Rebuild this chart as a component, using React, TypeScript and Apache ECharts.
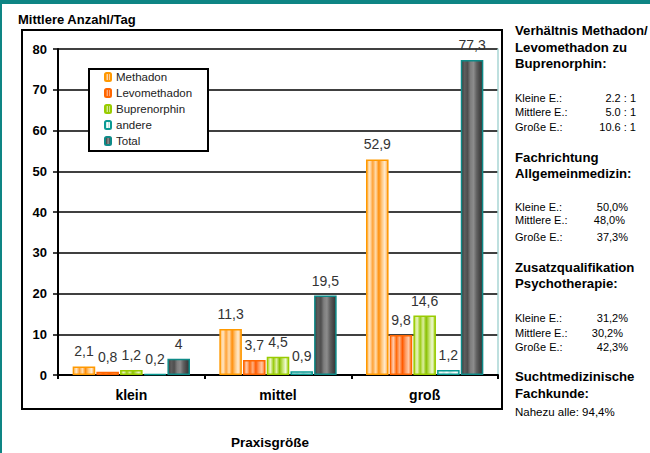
import React, { useEffect, useRef } from 'react';
import * as echarts from 'echarts';

// ---- data ----
const categories = ['klein', 'mittel', 'groß'];
const seriesNames = ['Methadon', 'Levomethadon', 'Buprenorphin', 'andere', 'Total'];
const methadon = [2.1, 11.3, 52.9];
const levomethadon = [0.8, 3.7, 9.8];
const buprenorphin = [1.2, 4.5, 14.6];
const andere = [0.2, 0.9, 1.2];
const total = [4, 19.5, 77.3];
const yMin = 0;
const yMax = 80;
const yStep = 10;

const yAxisTitle = 'Mittlere Anzahl/Tag';
const xAxisTitle = 'Praxisgröße';

const groupLabels = ['Kleine E.:', 'Mittlere E.:', 'Große E.:'];
const ratioHeading = ['Verhältnis Methadon/', 'Levomethadon zu', 'Buprenorphin:'];
const ratioValues = ['2.2 : 1', '5.0 : 1', '10.6 : 1'];
const allgHeading = ['Fachrichtung', 'Allgemeinmedizin:'];
const allgValues = ['50,0%', '48,0%', '37,3%'];
const psychHeading = ['Zusatzqualifikation', 'Psychotherapie:'];
const psychValues = ['31,2%', '30,2%', '42,3%'];
const suchtHeading = ['Suchtmedizinische', 'Fachkunde:'];
const suchtLine = 'Nahezu alle: 94,4%';

const FONT = '"Liberation Sans", Arial, Helvetica, sans-serif';

const grad = (stops: string[]) =>
  new echarts.graphic.LinearGradient(
    0, 0, 1, 0,
    stops.map((c, i) => ({ offset: i / (stops.length - 1), color: c }))
  );

const styles = [
  { fill: ['#FFB95C', '#FFE6C4', '#FFA236', '#FFDDB0', '#FF8E0A', '#FFC67C', '#FFEBD0', '#FFA840'], border: '#FF9900' },
  { fill: ['#FF8A44', '#FFC9A8', '#FF6A0A', '#FFB080', '#FF5A00', '#FF9A60', '#FFC8A4', '#FF7020'], border: '#FF6600' },
  { fill: ['#B4DA3A', '#EAF5C4', '#9ACC10', '#DDEFA0', '#88C000', '#C2E268', '#EEF8D0', '#A8D428'], border: '#99CC00' },
  { fill: ['#BFE6E0', '#F2FBF9', '#CBEDE7', '#FFFFFF', '#BDE4DE', '#E6F6F3', '#FFFFFF', '#C8EAE4'], border: '#0A9A94' },
  { fill: ['#3C3C3C', '#5E5E5E', '#4E4E4E', '#7E7E7E', '#8C8C8C', '#626262', '#484848', '#333333'], border: '#0E8A88' },
];

const seriesData = [methadon, levomethadon, buprenorphin, andere, total];

export default function App() {
  const ref = useRef<HTMLDivElement>(null);

  useEffect(() => {
    if (!ref.current) return;
    const chart = echarts.init(ref.current, undefined, { renderer: 'svg' });

    const series = seriesNames.map((name, i) => ({
      type: 'bar',
      name,
      data: seriesData[i],
      barGap: '5%',
      barCategoryGap: '20%',
      z: 2,
      itemStyle: {
        color: grad(styles[i].fill),
        borderColor: styles[i].border,
        borderWidth: 1.5,
      },
      label: {
        show: true,
        position: 'top',
        distance: 8,
        fontSize: 14,
        fontFamily: FONT,
        color: '#333333',
        formatter: (p: any) => String(p.value).replace('.', ','),
      },
    }));

    const texts: any[] = [];
    const heading = (lines: string[], ys: number[]) =>
      lines.forEach((t, i) =>
        texts.push({
          type: 'text', x: 515, y: ys[i], z: 5,
          style: { text: t, fontSize: 13.2, fontWeight: 'bold', fontFamily: FONT, fill: '#000', textVerticalAlign: 'middle' },
        })
      );
    const body = (vals: string[], ys: number[], valX: number[]) =>
      vals.forEach((v, i) => {
        texts.push({
          type: 'text', x: 515, y: ys[i], z: 5,
          style: { text: groupLabels[i], fontSize: 11, fontFamily: FONT, fill: '#000', textVerticalAlign: 'middle' },
        });
        texts.push({
          type: 'text', x: valX[i], y: ys[i], z: 5,
          style: { text: v, fontSize: 11, fontFamily: FONT, fill: '#000', textAlign: 'right', textVerticalAlign: 'middle' },
        });
      });

    heading(ratioHeading, [30, 47, 63]);
    body(ratioValues, [98, 112, 127], [636, 636, 636]);
    heading(allgHeading, [157, 173]);
    body(allgValues, [207, 220, 237], [628, 625, 628]);
    heading(psychHeading, [267, 283]);
    body(psychValues, [318, 333, 347], [628, 623, 628]);
    heading(suchtHeading, [376, 393]);
    texts.push({
      type: 'text', x: 515, y: 412, z: 5,
      style: { text: suchtLine, fontSize: 11.5, fontFamily: FONT, fill: '#000', textVerticalAlign: 'middle' },
    });

    const option: any = {
      animation: false,
      backgroundColor: '#ffffff',
      textStyle: { fontFamily: FONT },
      grid: { left: 58, right: 152, top: 49, bottom: 78, containLabel: false },
      legend: {
        orient: 'vertical',
        left: 104,
        top: 70,
        padding: 0,
        itemGap: 2,
        itemWidth: 6,
        itemHeight: 8,
        z: 6,
        data: seriesNames,
        textStyle: { fontSize: 11.5, fontFamily: FONT, color: '#222', lineHeight: 14 },
      },
      xAxis: {
        type: 'category',
        data: categories,
        axisLine: { lineStyle: { color: '#000', width: 2 } },
        axisTick: { show: true, length: 4, lineStyle: { color: '#000', width: 2 } },
        axisLabel: { fontSize: 14, fontWeight: 'bold', color: '#000', margin: 13, fontFamily: FONT },
      },
      yAxis: [
        {
          type: 'value',
          min: yMin,
          max: yMax,
          interval: yStep,
          axisLine: { show: true, lineStyle: { color: '#000', width: 2 } },
          axisTick: { show: true, length: 5, lineStyle: { color: '#000', width: 1.5 } },
          axisLabel: { fontSize: 13, fontWeight: 'bold', color: '#000', margin: 11, fontFamily: FONT },
          splitLine: { show: true, lineStyle: { color: '#000', width: 1.5 } },
        },
        {
          type: 'value',
          position: 'right',
          min: yMin,
          max: yMax,
          interval: yStep,
          axisLine: { show: true, lineStyle: { color: '#A9D6D4', width: 1.5 } },
          axisTick: { show: false },
          axisLabel: { show: false },
          splitLine: { show: false },
        },
      ],
      series,
      graphic: [
        { type: 'rect', z: 0, shape: { x: 0, y: 0, width: 650, height: 4 }, style: { fill: '#0E8584' } },
        { type: 'rect', z: 0, shape: { x: 0, y: 0, width: 2, height: 453 }, style: { fill: '#0E8584' } },
        { type: 'rect', z: 1, shape: { x: 22, y: 30, width: 480, height: 379 }, style: { fill: 'none', stroke: '#000', lineWidth: 2 } },
        { type: 'rect', z: 4, shape: { x: 89, y: 69, width: 119, height: 82 }, style: { fill: '#fff', stroke: '#000', lineWidth: 2 } },
        {
          type: 'text', x: 18, y: 19, z: 5,
          style: { text: yAxisTitle, fontSize: 13, fontWeight: 'bold', fontFamily: FONT, fill: '#000', textVerticalAlign: 'middle' },
        },
        {
          type: 'text', x: 270, y: 442, z: 5,
          style: { text: xAxisTitle, fontSize: 13.5, fontWeight: 'bold', fontFamily: FONT, fill: '#000', textAlign: 'center', textVerticalAlign: 'middle' },
        },
        ...texts,
      ],
    };

    chart.setOption(option);
    return () => chart.dispose();
  }, []);

  return (
    <div
      ref={ref}
      style={{ position: 'fixed', left: 0, top: 0, width: 650, height: 453, background: '#fff' }}
    />
  );
}
